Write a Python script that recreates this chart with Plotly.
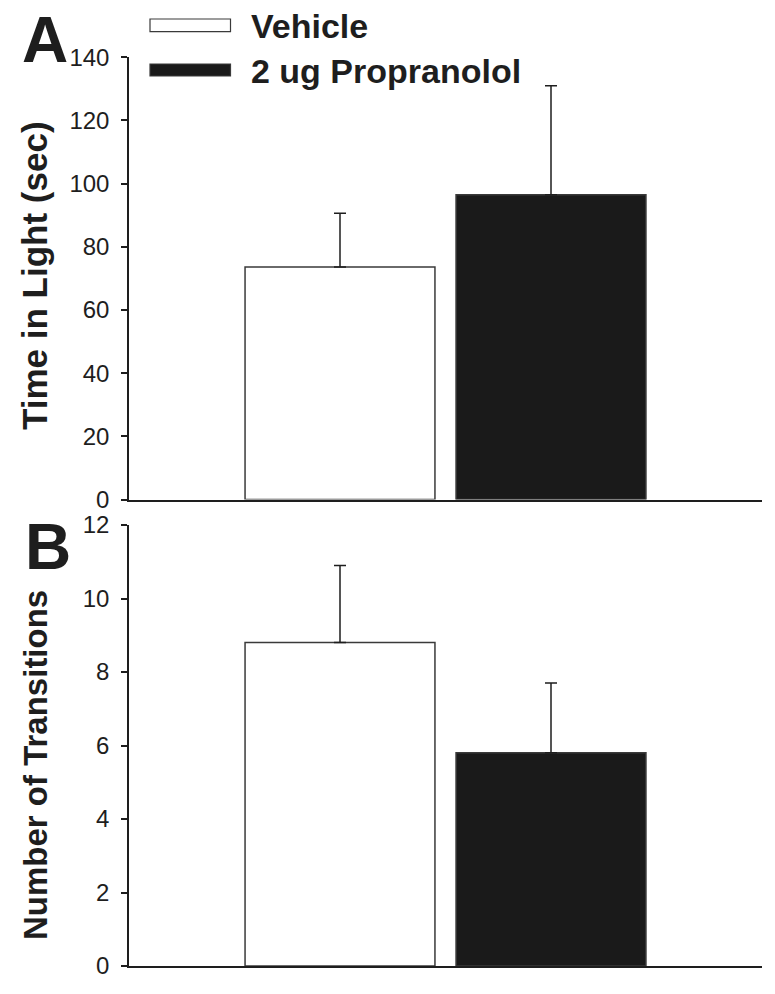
import plotly.graph_objects as go

# values (mean, upward SEM)
groups = ['Vehicle', '2 ug Propranolol']
time_in_light = [73.6, 96.5]
time_in_light_sem = [17.0, 34.5]
transitions = [8.8, 5.8]
transitions_sem = [2.1, 1.9]

# page body has an 8px default margin, so the figure is shrunk by that much
OFF = 8
W, H = 775 - OFF, 994 - OFF
FONT = 'Arial, Liberation Sans, sans-serif'
INK = '#1e1e1e'


def px(x):
    return (x - OFF) / W


def py(y):
    return 1 - (y - OFF) / H


fill_colors = ['white', '#1a1a1a']

fig = go.Figure()

for axis_num, (vals, sems) in enumerate([(time_in_light, time_in_light_sem),
                                         (transitions, transitions_sem)], start=1):
    suffix = '' if axis_num == 1 else str(axis_num)
    fig.add_trace(go.Bar(
        x=groups, y=vals, width=[0.9, 0.9],
        marker=dict(color=fill_colors, line=dict(color='#3a3a3a', width=1.5)),
        error_y=dict(type='data', array=sems, arrayminus=[0, 0], symmetric=False,
                     color=INK, thickness=1.5, width=6),
        xaxis='x' + suffix, yaxis='y' + suffix, showlegend=False,
    ))

x_axis = dict(type='category', range=[-1, 2], showline=True, linecolor=INK, linewidth=1.5,
              showticklabels=False, ticks='', showgrid=False, zeroline=False,
              automargin=False, domain=[px(129), px(762)])
y_axis = dict(showline=True, linecolor=INK, linewidth=1.5, ticks='outside', ticklen=6,
              tickwidth=1.5, tickcolor=INK, showgrid=False, zeroline=False,
              automargin=False,
              tickfont=dict(family=FONT, size=24, color=INK), ticklabelstandoff=7)

fig.update_layout(
    width=W, height=H,
    margin=dict(l=0, r=0, t=0, b=0),
    plot_bgcolor='white', paper_bgcolor='white',
    xaxis=dict(x_axis, anchor='y'),
    xaxis2=dict(x_axis, anchor='y2'),
    yaxis=dict(y_axis, range=[0, 140], dtick=20, anchor='x', domain=[py(499.5), py(57.3)]),
    yaxis2=dict(y_axis, range=[0, 12], dtick=2, anchor='x2', domain=[py(966), py(525)]),
)

# legend drawn by hand (wide swatches like the original)
legend_rows = [(19, 31.7, 'white', 26), (64, 76, '#1a1a1a', 71)]
for name, (y0, y1, col, yt) in zip(groups, legend_rows):
    fig.add_shape(type='rect', xref='paper', yref='paper',
                  x0=px(150), x1=px(230.5), y0=py(y1), y1=py(y0),
                  fillcolor=col, line=dict(color='#3a3a3a', width=1.2))
    fig.add_annotation(text='<b>' + name + '</b>', xref='paper', yref='paper',
                       x=px(249), y=py(yt), xanchor='left', yanchor='middle',
                       showarrow=False, font=dict(family=FONT, size=34, color=INK))

# panel letters
for letter, x, y in [('A', 45, 40), ('B', 47.5, 547)]:
    fig.add_annotation(text='<b>' + letter + '</b>', xref='paper', yref='paper',
                       x=px(x), y=py(y), xanchor='center', yanchor='middle',
                       showarrow=False, font=dict(family=FONT, size=64, color=INK))

# y titles
for title, y, size in [('Time in Light (sec)', 276, 35), ('Number of Transitions', 765, 33)]:
    fig.add_annotation(text='<b>' + title + '</b>', xref='paper', yref='paper',
                       x=px(35), y=py(y), xanchor='center', yanchor='middle',
                       textangle=-90, showarrow=False,
                       font=dict(family=FONT, size=size, color=INK))

fig.write_html('out.html')
